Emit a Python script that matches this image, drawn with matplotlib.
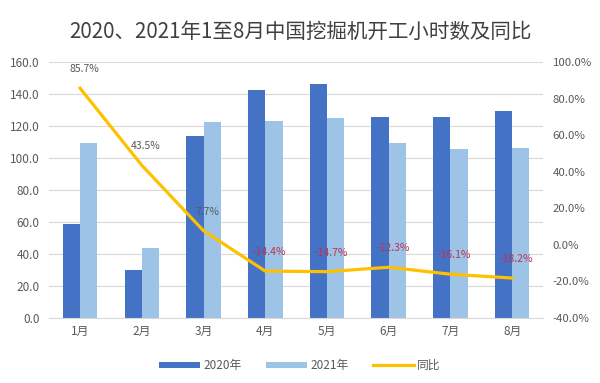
import matplotlib
matplotlib.use("Agg")
import matplotlib.pyplot as plt
from matplotlib.ticker import FuncFormatter
import numpy as np

plt.rcParams['font.family'] = ['Noto Sans CJK SC', 'DejaVu Sans']

# dados
meses = ["1月", "2月", "3月", "4月", "5月", "6月", "7月", "8月"]
horas_2020 = [58.5, 30.0, 113.5, 142.5, 146.5, 125.5, 125.5, 129.5]
horas_2021 = [109.5, 43.5, 122.5, 123.0, 125.0, 109.5, 105.5, 106.0]
tongbi = [85.7, 43.5, 7.7, -14.4, -14.7, -12.3, -16.1, -18.2]

cor_2020 = "#4472C4"
cor_2021 = "#9DC3E6"
cor_linha = "#FFC000"
cinza = "#595959"

fig = plt.figure(figsize=(6, 3.83), dpi=100)
ax = fig.add_axes([0.082, 0.170, 0.823, 0.668])
ax2 = ax.twinx()

x = np.arange(len(meses))
w = 0.28
ax.bar(x - w / 2, horas_2020, w, color=cor_2020, label="2020年", zorder=2)
ax.bar(x + w / 2, horas_2021, w, color=cor_2021, label="2021年", zorder=2)

ax.set_ylim(0, 160)
ax.set_yticks(np.arange(0, 161, 20))
ax.yaxis.set_major_formatter(FuncFormatter(lambda v, p: f"{v:.1f}"))
ax.set_xlim(-0.5, len(meses) - 0.5)
ax.set_xticks(x)
ax.set_xticklabels(meses)
ax.grid(axis='y', color="#D9D9D9", linewidth=0.8, zorder=0)
ax.set_axisbelow(True)

ax2.plot(x, tongbi, color=cor_linha, linewidth=2.3, label="同比", zorder=3)
ax2.set_ylim(-40, 100)
ax2.set_yticks(np.arange(-40, 101, 20))
ax2.yaxis.set_major_formatter(FuncFormatter(lambda v, p: f"{v:.1f}%"))

for xi, v in zip(x, tongbi):
    cor_txt = cinza if v >= 0 else "#C0304F"
    ax2.annotate(f"{v:.1f}%", (xi, v), xytext=(3, 10), textcoords="offset points",
                 ha='center', va='bottom', fontsize=7.5, color=cor_txt)

for a in (ax, ax2):
    for s in a.spines.values():
        s.set_visible(False)
    a.tick_params(length=0, labelsize=8.5, colors=cinza)
ax.spines['bottom'].set_visible(True)
ax.spines['bottom'].set_color("#D9D9D9")
ax.tick_params(axis='x', pad=5)
ax.tick_params(axis='y', pad=7)
ax2.tick_params(axis='y', pad=7, labelsize=8.2)

fig.suptitle("2020、2021年1至8月中国挖掘机开工小时数及同比", y=0.945,
             fontsize=14.8, color="#404040")

h1, l1 = ax.get_legend_handles_labels()
h2, l2 = ax2.get_legend_handles_labels()
fig.legend(h1 + h2, l1 + l2, loc='center', bbox_to_anchor=(0.5, 0.045), ncol=3,
           frameon=False, fontsize=8.5, labelcolor=cinza, handlelength=3.5,
           handleheight=0.5, handletextpad=0.3, columnspacing=2.0)

fig.savefig("out.png", dpi=100)
